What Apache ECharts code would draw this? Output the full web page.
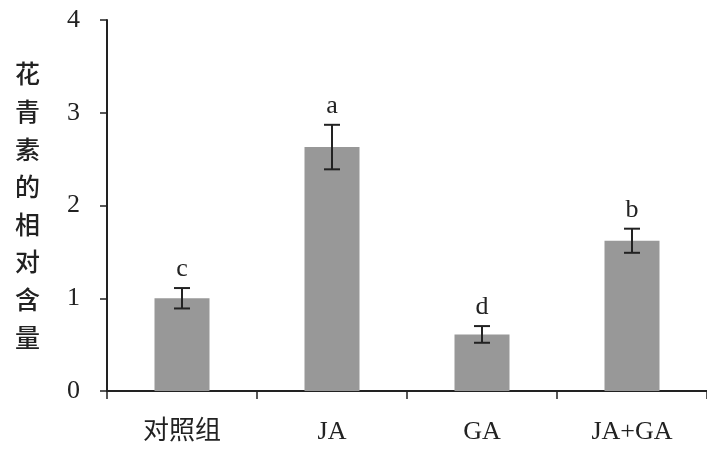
<!DOCTYPE html>
<html>
<head>
<meta charset="utf-8">
<script src="https://cdn.jsdelivr.net/npm/echarts@6/dist/echarts.min.js"></script>
<style>
  html, body { margin: 0; padding: 0; background: #fff; }
  #chart { width: 707px; height: 455px; }
</style>
</head>
<body>
<div id="chart"></div>
<script>
// Relative anthocyanin content under each treatment
const categories = ['对照组', 'JA', 'GA', 'JA+GA'];
const means = [1.0, 2.63, 0.61, 1.62];
const errors = [0.11, 0.24, 0.09, 0.13];
const letters = ['c', 'a', 'd', 'b'];
const yTitle = '花青素的相对含量';

const serif = '"Liberation Serif", "Noto Sans CJK SC", serif';
const cjk = '"Noto Sans CJK SC", "Liberation Serif", serif';
const ink = '#222222';

const errData = means.map((m, i) => [i, m - errors[i], m + errors[i], letters[i]]);

const chart = echarts.init(document.getElementById('chart'));
chart.setOption({
  backgroundColor: '#ffffff',
  animation: false,
  grid: { left: 107, top: 20, width: 604, height: 371 },
  xAxis: {
    type: 'category',
    data: categories,
    boundaryGap: true,
    axisLine: { lineStyle: { color: ink, width: 2 } },
    axisTick: { show: true, alignWithLabel: false, length: 8, lineStyle: { color: ink, width: 1.5 } },
    axisLabel: { color: ink, fontSize: 26, fontFamily: serif, margin: 28, lineHeight: 26 }
  },
  yAxis: {
    type: 'value',
    min: 0, max: 4, interval: 1,
    name: yTitle.split('').join('\n'),
    nameLocation: 'middle',
    nameRotate: 0,
    nameGap: 67,
    nameTextStyle: { color: ink, fontSize: 25, fontWeight: 500, fontFamily: cjk, lineHeight: 37.6 },
    splitLine: { show: false },
    axisLine: { show: true, lineStyle: { color: ink, width: 2 } },
    axisTick: { show: true, length: 7, lineStyle: { color: ink, width: 1.5 } },
    axisLabel: { color: ink, fontSize: 26, fontFamily: serif, margin: 27 }
  },
  series: [
    {
      type: 'bar',
      data: means,
      barWidth: 55,
      itemStyle: { color: '#989898' },
      z: 2
    },
    {
      type: 'custom',
      data: errData,
      z: 5,
      renderItem: function (params, api) {
        const lo = api.coord([api.value(0), api.value(1)]);
        const hi = api.coord([api.value(0), api.value(2)]);
        const cap = 8;
        const style = { stroke: ink, lineWidth: 2 };
        return {
          type: 'group',
          children: [
            { type: 'line', shape: { x1: hi[0], y1: hi[1], x2: lo[0], y2: lo[1] }, style: style },
            { type: 'line', shape: { x1: hi[0] - cap, y1: hi[1], x2: hi[0] + cap, y2: hi[1] }, style: style },
            { type: 'line', shape: { x1: lo[0] - cap, y1: lo[1], x2: lo[0] + cap, y2: lo[1] }, style: style },
            {
              type: 'text',
              x: hi[0], y: hi[1] - 6,
              style: {
                text: errData[params.dataIndex][3],
                fill: ink,
                font: '26px ' + serif,
                textAlign: 'center',
                textVerticalAlign: 'bottom'
              }
            }
          ]
        };
      }
    }
  ]
});
</script>
</body>
</html>
